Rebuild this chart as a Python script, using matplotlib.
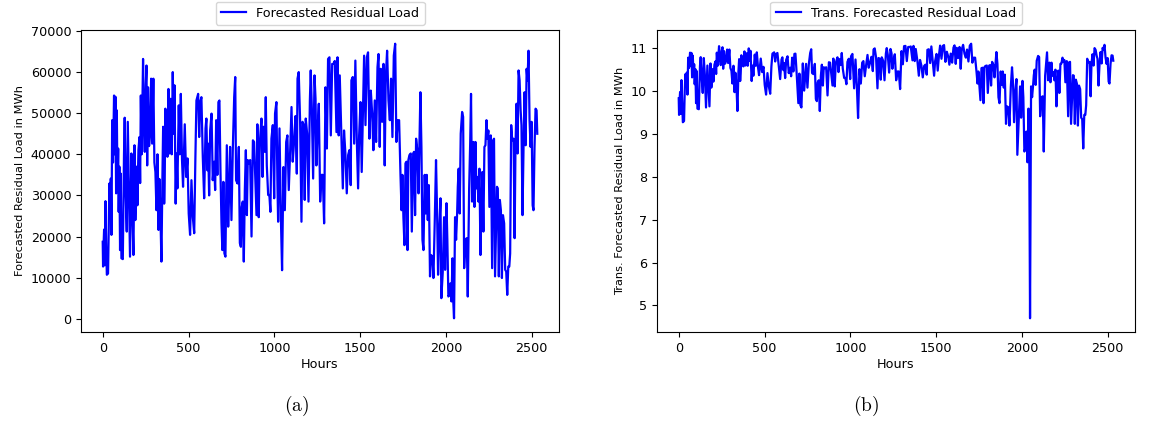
import matplotlib
matplotlib.use("Agg")
import matplotlib.pyplot as plt
import numpy as np

# hourly forecast of the residual load (sampled turning points)
hours = [
    0, 2, 5, 8, 12, 16, 20, 24, 31, 35, 39, 43, 47, 51, 55, 60, 66, 70, 74, 78,
    82, 86, 90, 93, 97, 101, 105, 109, 117, 124, 128, 134, 140, 146, 152, 159,
    167, 173, 179, 185, 190, 198, 202, 208, 214, 218, 222, 227, 235, 241, 245,
    251, 255, 259, 264, 270, 276, 282, 288, 295, 301, 307, 313, 319, 325, 330,
    336, 342, 348, 352, 358, 361, 365, 371, 377, 383, 389, 396, 402, 408, 414,
    418, 425, 430, 435, 443, 449, 455, 462, 468, 478, 486, 494, 501, 509, 517,
    525, 533, 540, 546, 556, 562, 568, 575, 583, 591, 599, 604, 610, 614, 620,
    626, 634, 641, 649, 655, 661, 668, 674, 680, 686, 692, 697, 703, 709, 715,
    723, 731, 736, 742, 750, 758, 766, 772, 777, 785, 793, 799, 805, 810, 816,
    822, 828, 834, 840, 845, 851, 859, 867, 875, 882, 896, 901, 909, 915, 925,
    931, 936, 944, 950, 956, 964, 971, 977, 983, 991, 999, 1004, 1012, 1018,
    1022, 1030, 1038, 1045, 1053, 1061, 1069, 1076, 1084, 1092, 1100, 1107,
    1115, 1123, 1131, 1135, 1142, 1150, 1158, 1164, 1170, 1177, 1183, 1191,
    1199, 1207, 1212, 1218, 1226, 1234, 1240, 1245, 1251, 1259, 1267, 1275,
    1282, 1290, 1298, 1306, 1313, 1321, 1329, 1337, 1345, 1352, 1362, 1368,
    1375, 1381, 1391, 1399, 1406, 1414, 1422, 1430, 1437, 1445, 1449, 1457,
    1465, 1472, 1480, 1488, 1494, 1502, 1509, 1517, 1523, 1531, 1539, 1546,
    1554, 1562, 1570, 1577, 1585, 1593, 1601, 1607, 1614, 1620, 1628, 1636,
    1643, 1649, 1657, 1665, 1673, 1680, 1688, 1696, 1704, 1711, 1719, 1727,
    1735, 1741, 1746, 1752, 1758, 1764, 1770, 1776, 1781, 1787, 1795, 1801,
    1809, 1814, 1820, 1826, 1834, 1840, 1851, 1857, 1863, 1869, 1876, 1882,
    1888, 1894, 1900, 1907, 1913, 1921, 1927, 1935, 1942, 1948, 1954, 1962,
    1968, 1973, 1981, 1989, 1995, 2003, 2008, 2014, 2020, 2026, 2032, 2038,
    2043, 2047, 2053, 2059, 2065, 2069, 2074, 2080, 2086, 2094, 2100, 2106,
    2113, 2121, 2127, 2135, 2141, 2146, 2152, 2160, 2166, 2172, 2177, 2183,
    2189, 2195, 2201, 2207, 2212, 2218, 2224, 2230, 2236, 2242, 2247, 2253,
    2261, 2269, 2275, 2280, 2286, 2297, 2302, 2308, 2314, 2320, 2326, 2332,
    2339, 2345, 2351, 2357, 2363, 2369, 2374, 2380, 2386, 2394, 2400, 2405,
    2411, 2417, 2423, 2429, 2435, 2440, 2446, 2452, 2458, 2464, 2470, 2475,
    2481, 2487, 2493, 2499, 2505, 2510, 2516, 2522, 2528, 2532,
]

load = [
    18700, 12700, 18000, 21700, 13000, 28600, 18000, 10700, 11000, 22000,
    32900, 27000, 34100, 20400, 48300, 38000, 54300, 40000, 54000, 30500,
    50700, 32000, 41400, 26000, 37000, 16700, 35300, 14700, 14500, 40000,
    48900, 30000, 21200, 47900, 32900, 15100, 40200, 25000, 15500, 42200,
    24000, 37000, 27600, 41000, 44200, 33000, 54300, 40000, 63200, 46000,
    40600, 57000, 61600, 37300, 56300, 42000, 45000, 58400, 42600, 58400,
    38000, 35700, 26400, 40000, 21600, 34000, 25600, 13900, 35000, 46700,
    28000, 33000, 51100, 44000, 39400, 55900, 40200, 53500, 40000, 60000,
    45000, 56800, 28000, 40200, 31700, 51900, 40000, 54700, 38600, 32100,
    47300, 34500, 39000, 25600, 20400, 33700, 24700, 20800, 39400, 53100,
    54700, 44200, 52700, 53900, 39400, 29300, 46300, 48700, 36100, 42600,
    30000, 45800, 49900, 33700, 38200, 31300, 48300, 35000, 52700, 53100,
    36100, 23200, 16700, 33300, 15900, 15100, 42200, 22400, 29700, 41800,
    24000, 41400, 53900, 58800, 33700, 32900, 41800, 18400, 17500, 27200,
    28500, 13900, 31300, 41000, 25200, 38600, 37800, 38600, 20000, 43400,
    43000, 25200, 47300, 24700, 42600, 48700, 34500, 46700, 40600, 53900,
    37300, 30100, 30100, 26000, 43800, 47100, 29300, 49900, 52700, 32900,
    23600, 46300, 24700, 11800, 36900, 26400, 43000, 44600, 31300, 40600,
    51500, 38200, 43000, 49300, 35300, 58400, 60000, 48300, 23600, 47900,
    47300, 28900, 48700, 45000, 28500, 53100, 60400, 51900, 34100, 59200,
    53500, 37300, 45000, 52300, 28500, 35000, 35000, 23200, 56300, 41400,
    63200, 63600, 44600, 62000, 62000, 62700, 45400, 63600, 44600, 59200,
    44200, 31700, 45800, 40200, 30500, 39800, 41000, 32500, 58000, 58800,
    42600, 62800, 44200, 31700, 44600, 52700, 35700, 52300, 64000, 47100,
    63600, 64800, 43800, 55500, 49900, 41000, 53100, 43000, 61200, 64400,
    41800, 60800, 47900, 62000, 37300, 58400, 65200, 53100, 48300, 58400,
    44200, 64000, 66900, 43000, 48300, 48300, 35000, 26400, 35000, 24700,
    17900, 37800, 38200, 16700, 38600, 39800, 40200, 21200, 40200, 40600,
    25200, 43800, 40600, 30500, 55100, 41800, 19200, 16700, 35000, 25600,
    35000, 24000, 32500, 10300, 15500, 15100, 9900, 24400, 38600, 26400,
    10700, 22800, 29300, 5000, 11100, 24700, 11900, 28100, 19200, 5400,
    5800, 8600, 4200, 14700, 3800, 110, 24700, 19200, 25600, 32100,
    36500, 25600, 45000, 50300, 49100, 12300, 19200, 19600, 5400, 31700,
    42600, 54700, 28500, 43000, 27200, 43000, 31700, 34500, 28500, 36500,
    15500, 28000, 35700, 21200, 41800, 42200, 48300, 43800, 45800, 27200,
    44600, 12300, 43400, 43800, 10300, 32100, 31700, 10300, 28900, 26400,
    9900, 25200, 23200, 11900, 11500, 5800, 12700, 12700, 15900, 47100,
    43400, 43800, 19600, 41800, 52300, 40200, 60400, 58000, 50700, 47100,
    25200, 41800, 55100, 42200, 60800, 58000, 65200, 48300, 41800, 47900,
    27600, 26400, 41800, 51100, 50700, 45000,
]

# log transform of the same series for the right panel
trans_load = np.log(np.array(load, dtype=float))

fig = plt.figure(figsize=(11.63, 4.23), dpi=100)
W, H = 1163, 423

def px_axes(left, top, right, bottom):
    return fig.add_axes([left / W, 1 - bottom / H, (right - left) / W, (bottom - top) / H])

tick_fs = 9.2
label_fs = 8.2

ax1 = px_axes(81, 30, 559, 332)
ax1.plot(hours, load, color="#0000ff", linewidth=1.6, label="Forecasted Residual Load")
ax1.set_xlabel("Hours", fontsize=tick_fs, labelpad=2)
ax1.set_ylabel("Forecasted Residual Load in MWh", fontsize=label_fs)
ax1.set_yticks(np.arange(0, 70001, 10000))
ax1.legend(loc="lower center", bbox_to_anchor=(0.5, 1.0), fontsize=tick_fs,
           borderaxespad=0.4)

ax2 = px_axes(657, 30, 1135, 332)
ax2.plot(hours, trans_load, color="#0000ff", linewidth=1.6,
         label="Trans. Forecasted Residual Load")
ax2.set_xlabel("Hours", fontsize=tick_fs, labelpad=2)
ax2.set_ylabel("Trans. Forecasted Residual Load in MWh", fontsize=label_fs)
ax2.legend(loc="lower center", bbox_to_anchor=(0.5, 1.0), fontsize=tick_fs,
           borderaxespad=0.4)

for ax in (ax1, ax2):
    ax.set_xticks(np.arange(0, 2501, 500))
    ax.tick_params(labelsize=tick_fs)

plt.rcParams["mathtext.fontset"] = "cm"
fig.text(297 / W, 1 - 406 / H, r"$\mathrm{(a)}$", ha="center", va="center", fontsize=14)
fig.text(866 / W, 1 - 406 / H, r"$\mathrm{(b)}$", ha="center", va="center", fontsize=14)

fig.savefig("out.png", dpi=100)
